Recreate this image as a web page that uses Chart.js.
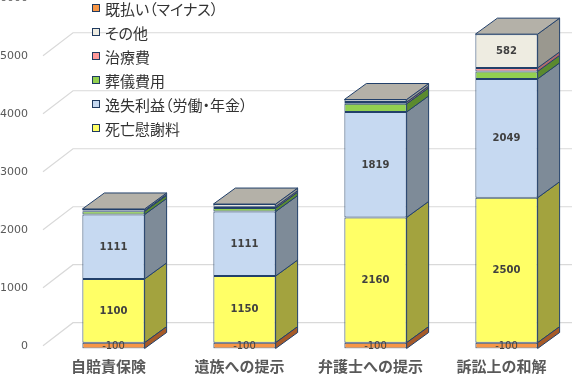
<!DOCTYPE html>
<html lang="ja">
<head>
<meta charset="utf-8">
<title>死亡事故の賠償額</title>
<script src="https://cdn.jsdelivr.net/npm/chart.js@4.4.1/dist/chart.umd.min.js"></script>
<style>
  html, body { margin: 0; padding: 0; background: #fff; }
  #wrap { position: relative; width: 572px; height: 374px; overflow: hidden; }
  #legend {
    position: absolute; left: 92px; top: -4px; margin: 0; padding: 0; list-style: none;
    font-family: "Noto Sans CJK JP", sans-serif; font-size: 15px; color: #333;
    font-feature-settings: "palt";
  }
  #legend li { height: 24px; display: flex; align-items: center; white-space: nowrap; }
  #legend .box { width: 6px; height: 6px; border: 1px solid #1f3a5f; margin-right: 5px; flex-shrink: 0; }
</style>
</head>
<body>
<div id="wrap">
  <canvas id="chart" width="572" height="374"></canvas>
  <ul id="legend"></ul>
</div>
<script>
const categories = ["自賠責保険", "遺族への提示", "弁護士への提示", "訴訟上の和解"];

const deathComp = [1100, 1150, 2160, 2500];
const lostProfit = [1111, 1111, 1819, 2049];
const funeral = [55, 60, 140, 130];
const medical = [15, 25, 30, 60];
const other = [25, 45, 45, 582];
const alreadyPaid = [-100, -100, -100, -100];

const yTicks = [0, 1000, 2000, 3000, 4000, 5000, 6000];

const DEPTH_X = 22;
const DEPTH_Y = 16;
const EDGE = "#22406a";
const TOP_FACE = "#b4b1a8";

const makeSeries = (label, data, color, sideColor) => ({
  label,
  data,
  backgroundColor: color,
  sideColor,
  borderColor: EDGE,
  borderWidth: 1,
  borderSkipped: false,
  stack: "total",
});

const datasets = [
  makeSeries("死亡慰謝料", deathComp, "#ffff66", "#a3a33e"),
  makeSeries("逸失利益（労働・年金）", lostProfit, "#c6d9f1", "#7e8b98"),
  makeSeries("葬儀費用", funeral, "#92d050", "#5b8a2e"),
  makeSeries("治療費", medical, "#ff9999", "#b06a6a"),
  makeSeries("その他", other, "#eeece1", "#9a988f"),
  makeSeries("既払い（マイナス）", alreadyPaid, "#f79646", "#a65a28"),
];

// side + top faces, back wall grid and value labels
const depthPlugin = {
  id: "depth",
  beforeDatasetsDraw(chart) {
    const { ctx, chartArea } = chart;
    const y = chart.scales.y;
    ctx.save();
    ctx.strokeStyle = "#d9d9d9";
    ctx.lineWidth = 1.2;
    y.ticks.forEach((t) => {
      const py = y.getPixelForValue(t.value);
      ctx.beginPath();
      ctx.moveTo(chartArea.left - 5, py + 3);
      ctx.lineTo(chartArea.left + 25, py - 20);
      ctx.lineTo(chart.width, py - 20);
      ctx.stroke();
    });
    ctx.restore();
  },
  afterDatasetsDraw(chart) {
    const { ctx } = chart;
    const tops = [];
    ctx.save();
    ctx.strokeStyle = EDGE;
    ctx.lineWidth = 1;
    ctx.lineJoin = "round";
    chart.data.datasets.forEach((ds, di) => {
      const meta = chart.getDatasetMeta(di);
      meta.data.forEach((bar, i) => {
        const left = bar.x - bar.width / 2;
        const right = bar.x + bar.width / 2;
        const top = Math.min(bar.y, bar.base);
        const bottom = Math.max(bar.y, bar.base);
        ctx.beginPath();
        ctx.moveTo(right, top);
        ctx.lineTo(right + DEPTH_X, top - DEPTH_Y);
        ctx.lineTo(right + DEPTH_X, bottom - DEPTH_Y);
        ctx.lineTo(right, bottom);
        ctx.closePath();
        ctx.fillStyle = ds.sideColor;
        ctx.fill();
        ctx.stroke();
        if (!tops[i] || top < tops[i].top) tops[i] = { left, right, top };
      });
    });
    tops.forEach(({ left, right, top }) => {
      ctx.beginPath();
      ctx.moveTo(left, top);
      ctx.lineTo(left + DEPTH_X, top - DEPTH_Y);
      ctx.lineTo(right + DEPTH_X, top - DEPTH_Y);
      ctx.lineTo(right, top);
      ctx.closePath();
      ctx.fillStyle = TOP_FACE;
      ctx.fill();
      ctx.stroke();
    });

    ctx.fillStyle = "#404040";
    ctx.textAlign = "center";
    ctx.textBaseline = "middle";
    chart.data.datasets.forEach((ds, di) => {
      const meta = chart.getDatasetMeta(di);
      meta.data.forEach((bar, i) => {
        const v = ds.data[i];
        if (v > 0 && v < 500) return;
        ctx.font = v < 0 ? "10px 'DejaVu Sans'" : "bold 10px 'DejaVu Sans'";
        ctx.fillText(String(v), bar.x, (bar.y + bar.base) / 2 + 0.5);
      });
    });
    ctx.restore();
  },
};

const chartConfig = {
  type: "bar",
  data: { labels: categories, datasets },
  options: {
    responsive: false,
    animation: false,
    devicePixelRatio: 1,
    layout: { padding: { top: 0, right: -2, left: 0, bottom: 0 } },
    datasets: {
      bar: { categoryPercentage: 1, barPercentage: 0.475 },
    },
    plugins: {
      legend: { display: false },
      tooltip: { enabled: false },
    },
    scales: {
      x: {
        stacked: true,
        grid: { display: false, drawTicks: false },
        border: { display: false },
        ticks: {
          color: "#595959",
          font: { family: "'Noto Sans CJK JP'", size: 15, weight: "bold" },
          padding: 9,
          labelOffset: -5,
          maxRotation: 0,
        },
        afterFit(scale) {
          scale.height = 25.5;
          scale.paddingLeft = 0;
          scale.paddingRight = 0;
        },
      },
      y: {
        stacked: true,
        min: -100,
        max: 5910,
        grid: { display: false, drawTicks: false },
        border: { display: false },
        ticks: {
          color: "#595959",
          font: { family: "'DejaVu Sans'", size: 11 },
          padding: 20,
          labelOffset: 3,
          callback: (value) => String(value),
        },
        afterBuildTicks(scale) {
          scale.ticks = yTicks.map((value) => ({ value }));
        },
        afterFit(scale) {
          scale.width = 48;
          scale.paddingTop = 0;
          scale.paddingBottom = 0;
        },
      },
    },
  },
  plugins: [depthPlugin],
};

const buildLegend = () => {
  const list = document.getElementById("legend");
  [...datasets].reverse().forEach((ds) => {
    const li = document.createElement("li");
    const box = document.createElement("span");
    box.className = "box";
    box.style.background = ds.backgroundColor;
    li.appendChild(box);
    li.appendChild(document.createTextNode(ds.label));
    list.appendChild(li);
  });
};

document.addEventListener("DOMContentLoaded", () => {
  new Chart(document.getElementById("chart"), chartConfig);
  buildLegend();
});
</script>
</body>
</html>
